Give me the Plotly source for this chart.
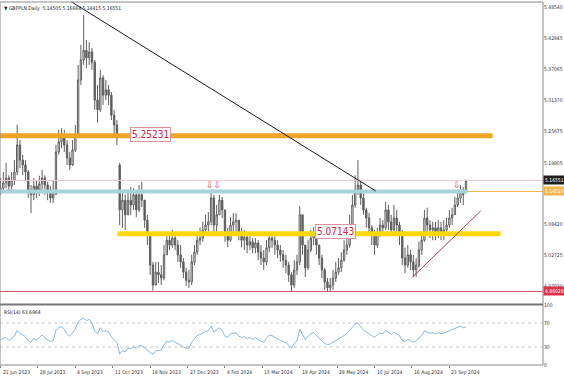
import plotly.graph_objects as go

# ---------------- data ----------------
date_labels = ["21 Jun 2023", "28 Jul 2023", "4 Sep 2023", "11 Oct 2023", "19 Nov 2023",
               "27 Dec 2023", "4 Feb 2024", "13 Mar 2024", "19 Apr 2024", "29 May 2024",
               "10 Jul 2024", "16 Aug 2024", "23 Sep 2024"]
price_ticks = [5.48540, 5.42845, 5.37065, 5.31370, 5.25675, 5.19805, 5.08420, 5.02725, 4.97030]
rsi_ticks = [100, 70, 30, 0]

open_ = [5.145, 5.151, 5.161, 5.170, 5.155, 5.166, 5.181, 5.231, 5.203, 5.194,
         5.181, 5.148, 5.139, 5.155, 5.148, 5.159, 5.170, 5.157, 5.144, 5.133,
         5.140, 5.218, 5.237, 5.248, 5.231, 5.207, 5.194, 5.222, 5.249, 5.351,
         5.388, 5.406, 5.392, 5.403, 5.384, 5.314, 5.296, 5.355, 5.323, 5.333,
         5.323, 5.286, 5.268, 5.194, 5.111, 5.129, 5.102, 5.129, 5.120, 5.139,
         5.111, 5.139, 5.129, 5.092, 5.065, 5.009, 4.972, 4.996, 4.991, 4.985,
         5.028, 5.055, 5.046, 5.059, 5.046, 5.028, 5.015, 4.996, 4.981, 4.978,
         5.015, 5.033, 5.055, 5.059, 5.074, 5.083, 5.089, 5.133, 5.083, 5.102,
         5.129, 5.111, 5.065, 5.055, 5.083, 5.089, 5.092, 5.065, 5.055, 5.061,
         5.046, 5.052, 5.041, 5.050, 5.033, 5.022, 5.015, 5.041, 5.059, 5.055,
         5.046, 5.037, 5.028, 5.018, 5.009, 4.991, 4.972, 5.000, 5.015, 5.102,
         5.046, 5.004, 5.037, 5.059, 5.070, 5.046, 5.022, 5.000, 4.978, 4.967,
         4.972, 4.985, 4.996, 5.004, 5.018, 5.037, 5.046, 5.083, 5.120, 5.148,
         5.157, 5.133, 5.111, 5.096, 5.078, 5.065, 5.046, 5.065, 5.083, 5.078,
         5.111, 5.089, 5.074, 5.096, 5.083, 5.065, 5.022, 5.009, 5.028, 5.015,
         5.000, 5.009, 5.037, 5.055, 5.096, 5.083, 5.074, 5.078, 5.070, 5.078,
         5.068, 5.074, 5.083, 5.096, 5.102, 5.120, 5.133, 5.144, 5.14505]

high = [5.170, 5.181, 5.198, 5.175, 5.181, 5.203, 5.268, 5.240, 5.213, 5.203,
        5.185, 5.157, 5.170, 5.166, 5.174, 5.185, 5.175, 5.163, 5.155, 5.166,
        5.231, 5.259, 5.262, 5.259, 5.240, 5.218, 5.240, 5.268, 5.379, 5.416,
        5.471, 5.425, 5.421, 5.410, 5.388, 5.342, 5.370, 5.360, 5.351, 5.342,
        5.329, 5.296, 5.277, 5.198, 5.148, 5.139, 5.148, 5.153, 5.151, 5.148,
        5.157, 5.163, 5.129, 5.102, 5.068, 5.015, 5.015, 5.015, 5.009, 5.046,
        5.070, 5.070, 5.074, 5.068, 5.055, 5.046, 5.022, 5.004, 5.000, 5.028,
        5.046, 5.070, 5.078, 5.089, 5.102, 5.107, 5.144, 5.139, 5.120, 5.139,
        5.135, 5.111, 5.078, 5.098, 5.105, 5.105, 5.092, 5.078, 5.074, 5.068,
        5.065, 5.059, 5.059, 5.055, 5.046, 5.037, 5.055, 5.070, 5.070, 5.068,
        5.055, 5.046, 5.037, 5.028, 5.015, 4.996, 5.018, 5.028, 5.118, 5.102,
        5.046, 5.055, 5.074, 5.079, 5.070, 5.046, 5.028, 5.004, 4.985, 4.985,
        5.000, 5.015, 5.022, 5.033, 5.055, 5.059, 5.102, 5.139, 5.175, 5.203,
        5.166, 5.142, 5.115, 5.105, 5.083, 5.074, 5.078, 5.096, 5.092, 5.126,
        5.120, 5.102, 5.120, 5.111, 5.089, 5.074, 5.041, 5.046, 5.037, 5.028,
        5.022, 5.052, 5.070, 5.111, 5.115, 5.092, 5.089, 5.089, 5.092, 5.089,
        5.092, 5.096, 5.111, 5.115, 5.135, 5.148, 5.157, 5.153, 5.16664]

low = [5.139, 5.144, 5.151, 5.142, 5.148, 5.157, 5.175, 5.188, 5.175, 5.166,
       5.133, 5.105, 5.129, 5.133, 5.137, 5.148, 5.139, 5.129, 5.124, 5.124,
       5.139, 5.213, 5.225, 5.218, 5.194, 5.185, 5.192, 5.218, 5.244, 5.342,
       5.379, 5.373, 5.379, 5.370, 5.296, 5.272, 5.292, 5.305, 5.314, 5.305,
       5.277, 5.249, 5.231, 5.083, 5.078, 5.074, 5.102, 5.102, 5.111, 5.098,
       5.107, 5.116, 5.078, 5.046, 4.991, 4.962, 4.972, 4.976, 4.972, 4.981,
       5.028, 5.037, 5.041, 5.037, 5.015, 5.004, 4.985, 4.970, 4.967, 4.972,
       5.009, 5.028, 5.046, 5.052, 5.065, 5.070, 5.083, 5.065, 5.070, 5.102,
       5.096, 5.052, 5.042, 5.052, 5.065, 5.070, 5.055, 5.042, 5.037, 5.031,
       5.037, 5.031, 5.031, 5.018, 5.009, 5.000, 5.009, 5.033, 5.041, 5.028,
       5.022, 5.015, 5.004, 4.994, 4.978, 4.961, 4.967, 4.991, 5.009, 5.028,
       4.987, 5.000, 5.033, 5.046, 5.028, 5.009, 4.985, 4.963, 4.960, 4.961,
       4.963, 4.978, 4.991, 4.996, 5.015, 5.028, 5.041, 5.078, 5.115, 5.139,
       5.120, 5.102, 5.078, 5.065, 5.046, 5.028, 5.041, 5.061, 5.065, 5.074,
       5.074, 5.065, 5.070, 5.070, 5.046, 5.009, 4.994, 5.004, 5.000, 4.987,
       4.987, 5.004, 5.028, 5.052, 5.070, 5.059, 5.055, 5.055, 5.059, 5.055,
       5.055, 5.065, 5.078, 5.083, 5.102, 5.116, 5.124, 5.120, 5.14415]

close = [5.151, 5.161, 5.170, 5.155, 5.166, 5.181, 5.231, 5.203, 5.194, 5.181,
         5.148, 5.139, 5.155, 5.148, 5.159, 5.170, 5.157, 5.144, 5.133, 5.140,
         5.218, 5.237, 5.248, 5.231, 5.207, 5.194, 5.222, 5.249, 5.351, 5.388,
         5.406, 5.392, 5.403, 5.384, 5.314, 5.296, 5.355, 5.323, 5.333, 5.323,
         5.286, 5.268, 5.244, 5.111, 5.129, 5.102, 5.129, 5.120, 5.139, 5.111,
         5.139, 5.129, 5.092, 5.065, 5.009, 4.972, 4.996, 4.991, 4.985, 5.028,
         5.055, 5.046, 5.059, 5.046, 5.028, 5.015, 4.996, 4.981, 4.978, 5.015,
         5.033, 5.055, 5.059, 5.074, 5.083, 5.089, 5.133, 5.083, 5.102, 5.129,
         5.111, 5.065, 5.055, 5.083, 5.089, 5.092, 5.065, 5.055, 5.061, 5.046,
         5.052, 5.041, 5.050, 5.033, 5.022, 5.015, 5.041, 5.059, 5.055, 5.046,
         5.037, 5.028, 5.018, 5.009, 4.991, 4.972, 5.000, 5.015, 5.102, 5.046,
         5.004, 5.037, 5.059, 5.070, 5.046, 5.022, 5.000, 4.978, 4.967, 4.972,
         4.985, 4.996, 5.004, 5.018, 5.037, 5.046, 5.083, 5.120, 5.148, 5.157,
         5.133, 5.111, 5.096, 5.078, 5.065, 5.046, 5.065, 5.083, 5.078, 5.111,
         5.089, 5.074, 5.096, 5.083, 5.065, 5.022, 5.009, 5.028, 5.015, 5.000,
         5.009, 5.037, 5.055, 5.096, 5.083, 5.074, 5.078, 5.070, 5.078, 5.068,
         5.074, 5.083, 5.096, 5.102, 5.120, 5.133, 5.144, 5.139, 5.16551]

rsi = [42, 44, 46, 41, 44, 48, 58, 52, 50, 47,
       40, 38, 44, 42, 46, 50, 45, 42, 39, 41,
       58, 62, 64, 59, 52, 48, 54, 60, 72, 76,
       78, 74, 76, 70, 56, 52, 62, 56, 57, 55,
       47, 42, 37, 18, 24, 22, 28, 27, 31, 28,
       33, 32, 28, 25, 21, 18, 24, 24, 25, 34,
       40, 38, 41, 38, 36, 33, 30, 28, 28, 38,
       44, 49, 51, 54, 56, 57, 65, 55, 58, 62,
       57, 48, 46, 52, 53, 54, 48, 46, 47, 44,
       46, 43, 46, 42, 40, 38, 45, 50, 49, 46,
       44, 41, 39, 37, 33, 28, 36, 40, 60, 50,
       42, 48, 52, 54, 49, 44, 40, 36, 34, 35,
       38, 41, 43, 46, 49, 52, 58, 64, 68, 70,
       63, 58, 55, 52, 49, 46, 50, 53, 52, 58,
       54, 51, 55, 52, 49, 41, 39, 43, 41, 38,
       40, 45, 49, 57, 55, 53, 54, 52, 54, 52,
       53, 55, 57, 58, 61, 63, 65, 62, 63.7]

# levels / drawn objects (prices)
resist_level = 5.248      # orange band
label_resist = "5.25231"
teal_level = 5.14510      # light blue band + thin orange line
support_level = 5.067     # yellow band
label_support = "5.07143"
bid_price = 5.16551
low_level = 4.96029
downtrend = ([20.0, 135.4], [5.5133, 5.146])
uptrend = ([148.7, 173.3], [4.987, 5.109])
title_text = "\u25bc GBPPLN,Daily  5.14505 5.16664 5.14415 5.16551"
rsi_text = "RSI(14) 63.6964"

# ---------------- figure ----------------
W, H = 564, 381
MT, MB, MR, ML = 2, 16, 21, 0
plot_h = H - MT - MB


def frac(px):
    return (H - MB - px) / plot_h


FONT = "Liberation Sans Narrow, Arial Narrow, DejaVu Sans Condensed, Liberation Sans, Arial, sans-serif"
XMIN, XMAX = -0.2, 195.8
xs = list(range(len(close)))

fig = go.Figure()


def hline(x0, x1, yv, color, width, xa="x", ya="y", dash=None):
    fig.add_trace(go.Scatter(x=[x0, x1], y=[yv, yv], mode="lines", xaxis=xa, yaxis=ya,
                             line=dict(color=color, width=width, dash=dash),
                             hoverinfo="skip", showlegend=False))


hline(XMIN, XMAX, bid_price, "#f3c9cd", 1)
hline(XMIN, XMAX, teal_level, "#f3b548", 1)
hline(XMIN, XMAX, low_level, "#e0485c", 1)
hline(XMIN, 177.6, resist_level, "#f0a526", 5)
hline(XMIN, 168.6, teal_level, "#a9d2d9", 4)
hline(42.2, 180.5, support_level, "#fbd80c", 5)

fig.add_trace(go.Candlestick(
    x=xs, open=open_, high=high, low=low, close=close,
    increasing=dict(line=dict(color="#5e5e5e", width=1), fillcolor="#ffffff"),
    decreasing=dict(line=dict(color="#5e5e5e", width=1), fillcolor="#5e5e5e"),
    whiskerwidth=0, hoverinfo="skip", showlegend=False))

fig.add_trace(go.Scatter(x=downtrend[0], y=downtrend[1], mode="lines",
                         line=dict(color="#1a1a1a", width=1), hoverinfo="skip", showlegend=False))
fig.add_trace(go.Scatter(x=uptrend[0], y=uptrend[1], mode="lines",
                         line=dict(color="#b0384f", width=1), hoverinfo="skip", showlegend=False))

# RSI panel
hline(XMIN, XMAX, 70, "#c9c9c9", 1, "x2", "y2", "dot")
hline(XMIN, XMAX, 30, "#c9c9c9", 1, "x2", "y2", "dot")
fig.add_trace(go.Scatter(x=xs, y=rsi, mode="lines", xaxis="x2", yaxis="y2",
                         line=dict(color="#8cb8e0", width=1), hoverinfo="skip", showlegend=False))

main_bottom = frac(304)
rsi_top = frac(305)
tick_pos = [k * 13.5 for k in range(len(date_labels))]

fig.update_layout(
    width=W, height=H, margin=dict(l=ML, r=MR, t=MT, b=MB, autoexpand=False),
    paper_bgcolor="white", plot_bgcolor="white", showlegend=False,
    font=dict(family=FONT, size=6, color="#222222"),
    xaxis=dict(domain=[0, 1], range=[XMIN, XMAX], anchor="y", showticklabels=False,
               showgrid=False, zeroline=False, showline=False, ticks="",
               rangeslider=dict(visible=False)),
    xaxis2=dict(domain=[0, 1], range=[XMIN, XMAX], anchor="y2", showticklabels=False,
                showgrid=False, zeroline=False, showline=False, tickvals=tick_pos,
                ticks="outside", ticklen=2, tickcolor="#777777"),
    yaxis=dict(domain=[main_bottom, 1], range=[4.9371, 5.4952], side="right", anchor="x",
               tickvals=price_ticks, ticktext=[f"{v:.5f}" for v in price_ticks],
               tickfont=dict(size=5, color="#333333", family=FONT), ticks="",
               showgrid=False, zeroline=False, showline=False),
    yaxis2=dict(domain=[0, rsi_top], range=[0, 100], side="right", anchor="x2",
                tickvals=rsi_ticks, ticktext=[str(v) for v in rsi_ticks],
                tickfont=dict(size=5, color="#333333", family=FONT), ticks="",
                showgrid=False, zeroline=False, showline=False),
)

shapes = [
    dict(type="rect", xref="paper", yref="paper", x0=0, x1=1, y0=0, y1=1,
         line=dict(color="#8a8a8a", width=1)),
    dict(type="line", xref="paper", yref="paper", x0=0, x1=1,
         y0=(main_bottom + rsi_top) / 2, y1=(main_bottom + rsi_top) / 2,
         line=dict(color="#777777", width=2)),
]
fig.update_layout(shapes=shapes)

ann = []
ann.append(dict(xref="paper", yref="paper", x=0, y=1, xanchor="left", yanchor="top",
                xshift=2, yshift=-1, text=title_text, showarrow=False,
                font=dict(size=5, color="#222222", family=FONT)))
ann.append(dict(xref="paper", yref="paper", x=0, y=rsi_top, xanchor="left", yanchor="top",
                xshift=2, yshift=-2, text=rsi_text, showarrow=False,
                font=dict(size=5, color="#222222", family=FONT)))
for tp, lab in zip(tick_pos, date_labels):
    ann.append(dict(xref="x2", yref="paper", x=tp, y=0, xanchor="left", yanchor="top",
                    yshift=-2, text=lab, showarrow=False,
                    font=dict(size=5, color="#333333", family=FONT)))
# price labels on the axis
for price, bg, fg in [(bid_price, "#1e1e1e", "#ffffff"), (teal_level, "#f3b548", "#ffffff"),
                      (low_level, "#e0304a", "#ffffff")]:
    ann.append(dict(xref="paper", yref="y", x=1, y=price, xanchor="left", yanchor="middle",
                    text=f"{price:.5f}", showarrow=False, bgcolor=bg, borderpad=1,
                    font=dict(size=5, color=fg, family=FONT)))
# level text boxes
for xv, yv, t in [(54.2, 5.251, label_resist), (120.9, 5.071, label_support)]:
    ann.append(dict(xref="x", yref="y", x=xv, y=yv, xanchor="center", yanchor="middle",
                    text=t, showarrow=False, bgcolor="#ffffff", bordercolor="#e0909a",
                    borderwidth=1, borderpad=1,
                    font=dict(size=10, color="#d3233a", family=FONT)))
# arrows
for xv, t in [(76.9, "\u21e9\u21e9"), (164.6, "\u21e9")]:
    ann.append(dict(xref="x", yref="y", x=xv, y=5.157, text=t, showarrow=False,
                    font=dict(size=9, color="#e04a5a", family="DejaVu Sans")))
fig.update_layout(annotations=ann)

fig.write_html("out.html", config={"displayModeBar": False},
               post_script="document.body.style.margin='0';document.body.style.padding='0';")
